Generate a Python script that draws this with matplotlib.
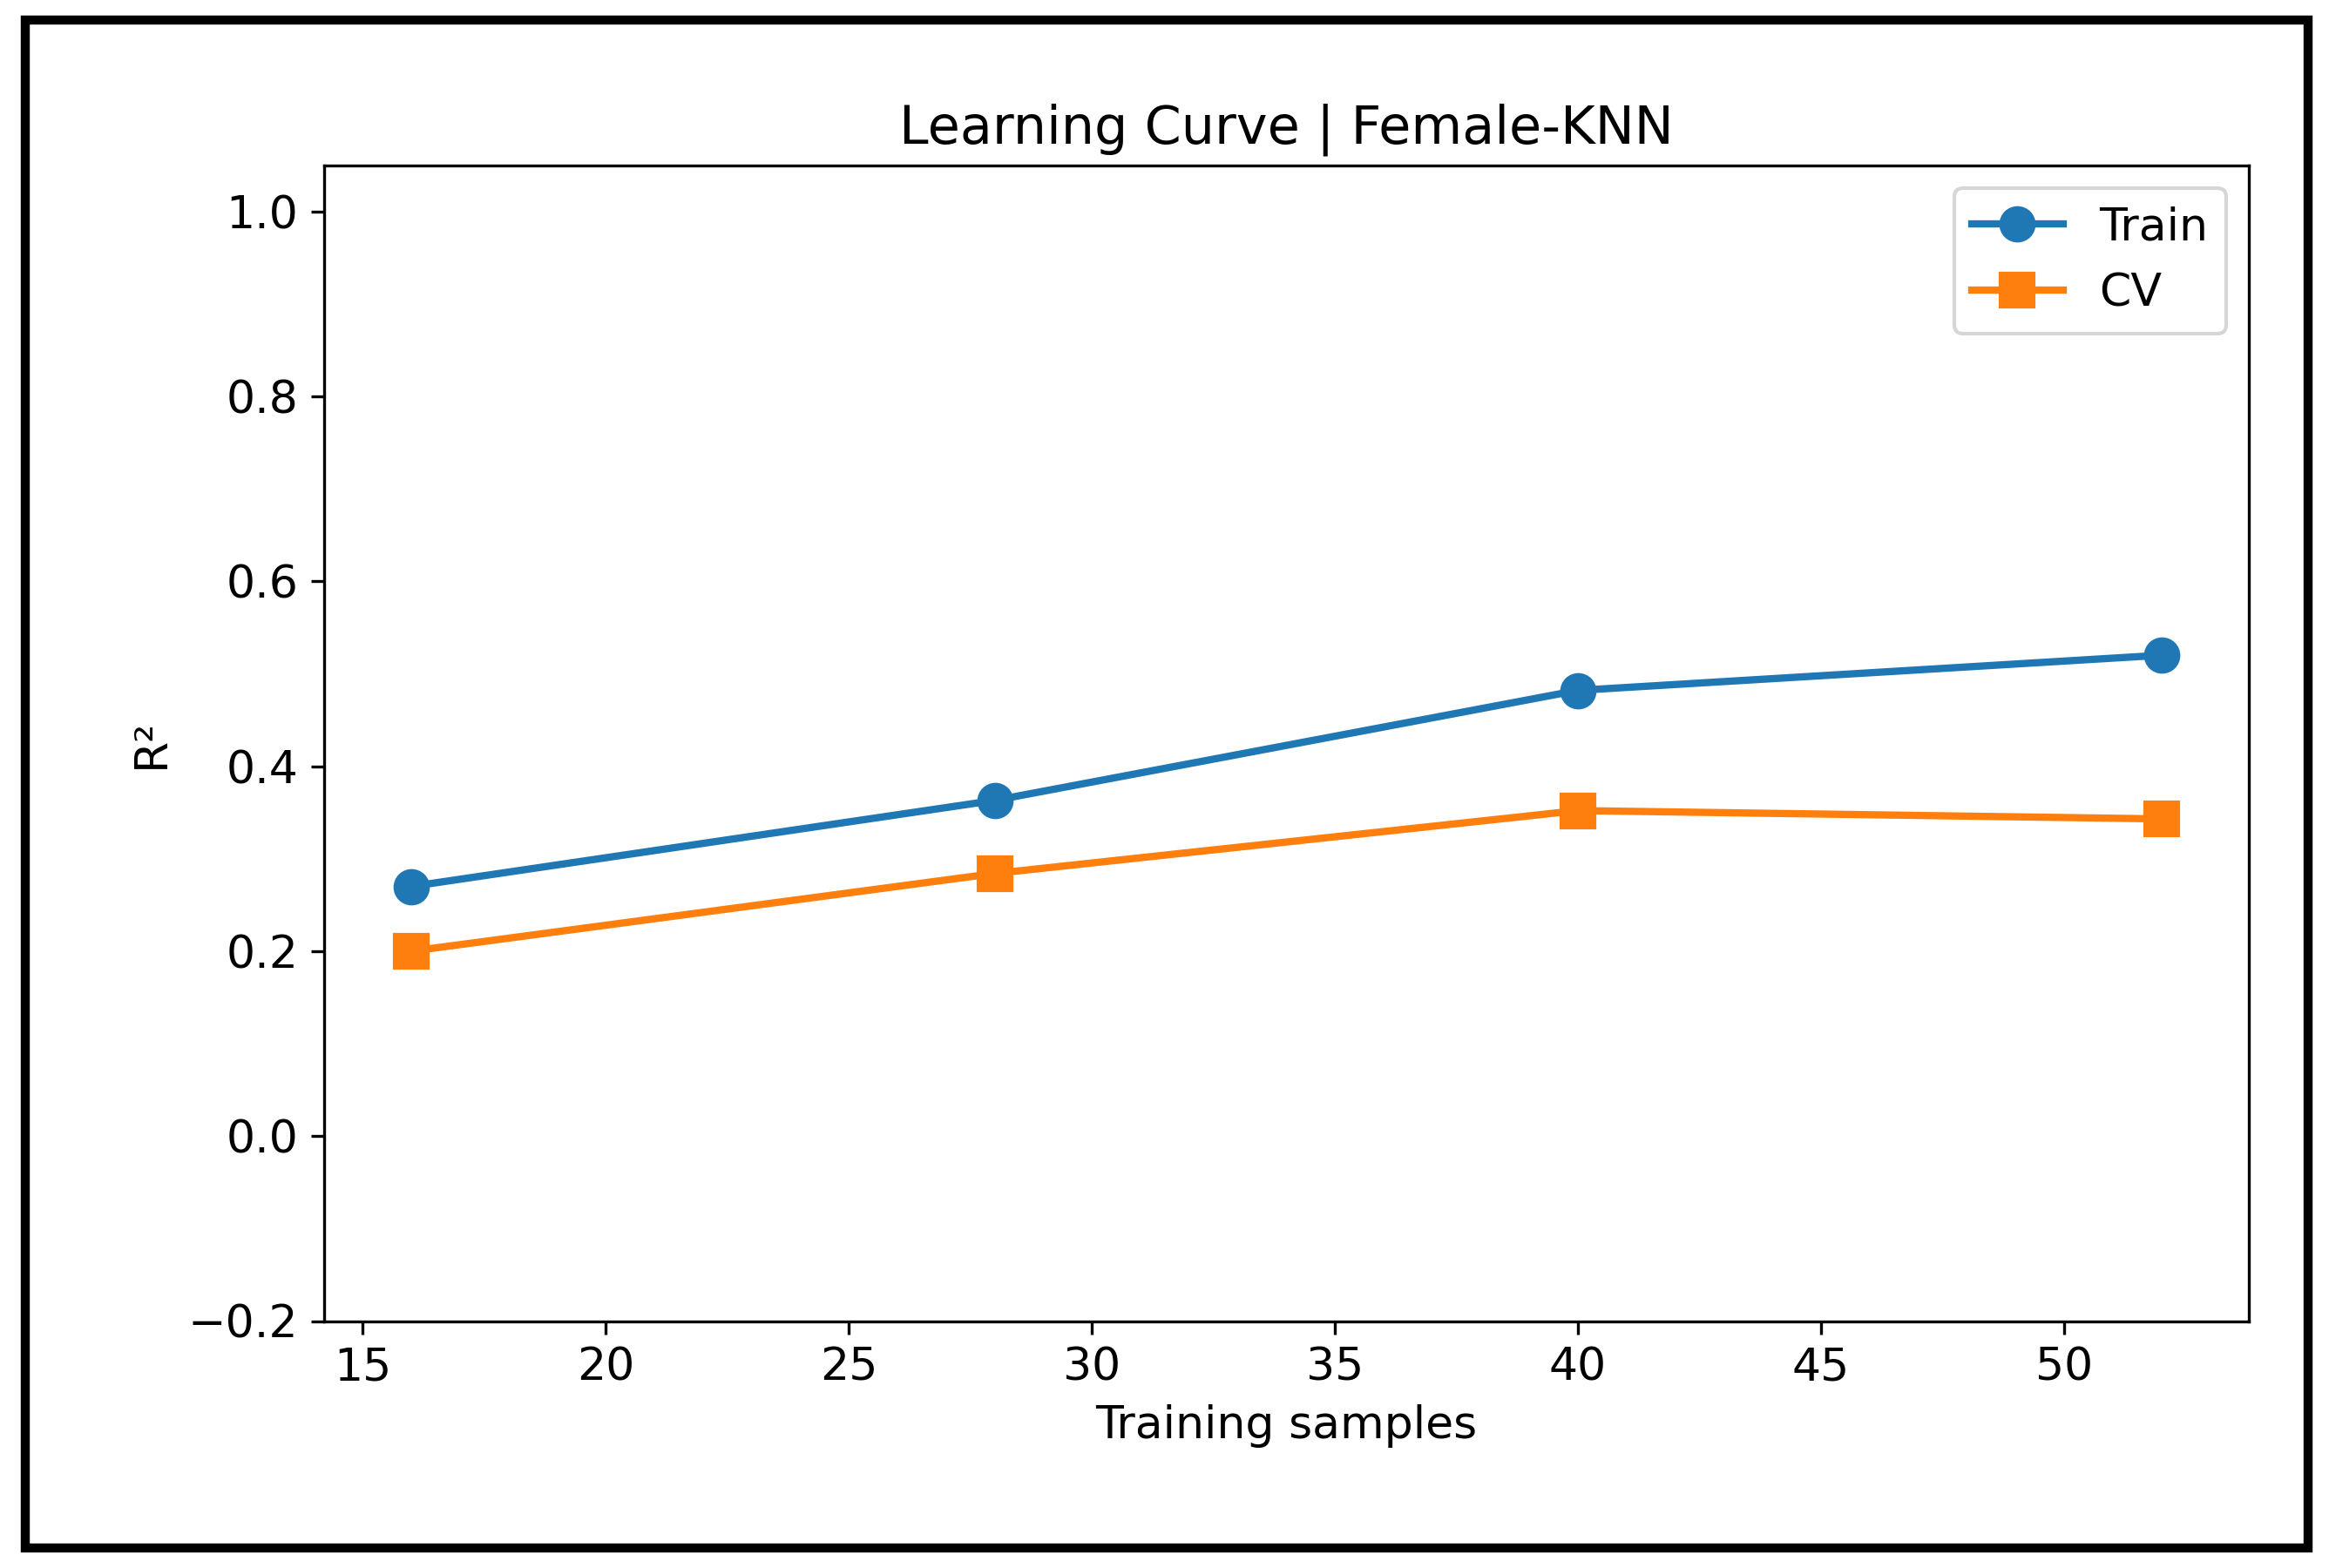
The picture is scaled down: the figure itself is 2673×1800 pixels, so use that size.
import matplotlib
matplotlib.use("Agg")
import matplotlib.pyplot as plt
from matplotlib.patches import Rectangle

sizes = [16, 28, 40, 52]
train = [0.270, 0.363, 0.482, 0.520]
cv = [0.200, 0.284, 0.352, 0.343]

fig = plt.figure(figsize=(8.91, 6), dpi=300)
ax = fig.add_axes([0.139, 0.1575, 0.8266, 0.7372])
ax.plot(sizes, train, marker='o', color='#1f77b4', lw=2, ms=9, label='Train')
ax.plot(sizes, cv, marker='s', color='#ff7f0e', lw=2, ms=9, label='CV')
ax.set_ylim(-0.2, 1.05)
ax.set_yticks([-0.2, 0.0, 0.2, 0.4, 0.6, 0.8, 1.0])
ax.set_xticks([15, 20, 25, 30, 35, 40, 45, 50])
ax.tick_params(labelsize=12.5)
ax.set_xlabel('Training samples', fontsize=12.5)
ax.set_ylabel('R²', fontsize=12.5)
ax.set_title('Learning Curve | Female-KNN', fontsize=14.5)
ax.legend(loc='upper right', fontsize=12.5)
fig.patches.append(Rectangle((0.011, 0.013), 0.98, 0.974, transform=fig.transFigure,
                             fill=False, edgecolor='black', lw=2.5))
fig.savefig('out.png', dpi=300)
